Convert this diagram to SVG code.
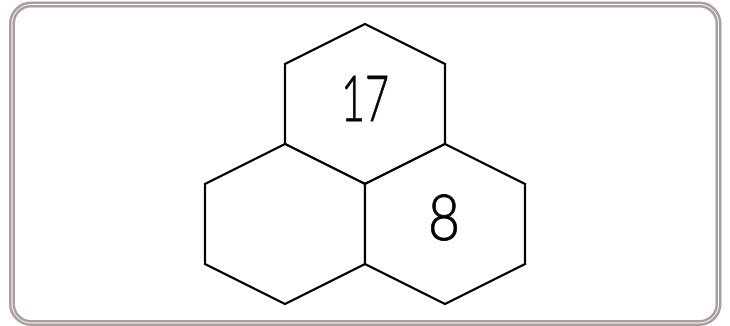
<svg xmlns="http://www.w3.org/2000/svg" width="730" height="326" viewBox="0 0 730 326">
<style>
.frame{fill:none;stroke:#ab9e9e;stroke-width:6}
.frame2{fill:none;stroke:#ffffff;stroke-width:1}
.hex{fill:#ffffff;stroke:#000000;stroke-width:2.2;stroke-linejoin:miter}
.lbl{font-family:Lato,"Open Sans","Liberation Sans",sans-serif;font-weight:300;font-size:64px;fill:#000000;stroke:#000000;stroke-width:0.9;text-anchor:middle}
</style>
<rect x="0" y="0" width="730" height="326" fill="#ffffff"/>
<rect class="frame" x="12" y="4.5" width="706.5" height="318.5" rx="19" ry="19"/>
<rect class="frame2" x="12" y="4.5" width="706.5" height="318.5" rx="19" ry="19"/>
<g id="hex-top">
<polygon class="hex" points="365,24 445,64 445,144 365,184 285,144 285,64"/>
<text class="lbl" x="365" y="121" textLength="48" lengthAdjust="spacingAndGlyphs">17</text>
</g>
<g id="hex-left">
<polygon class="hex" points="285,144 365,184 365,264 285,304 205,264 205,184"/>
</g>
<g id="hex-right">
<polygon class="hex" points="445,144 525,184 525,264 445,304 365,264 365,184"/>
<text class="lbl" x="444" y="240" textLength="32" lengthAdjust="spacingAndGlyphs">8</text>
</g>
<g id="connectors"></g>
</svg>
